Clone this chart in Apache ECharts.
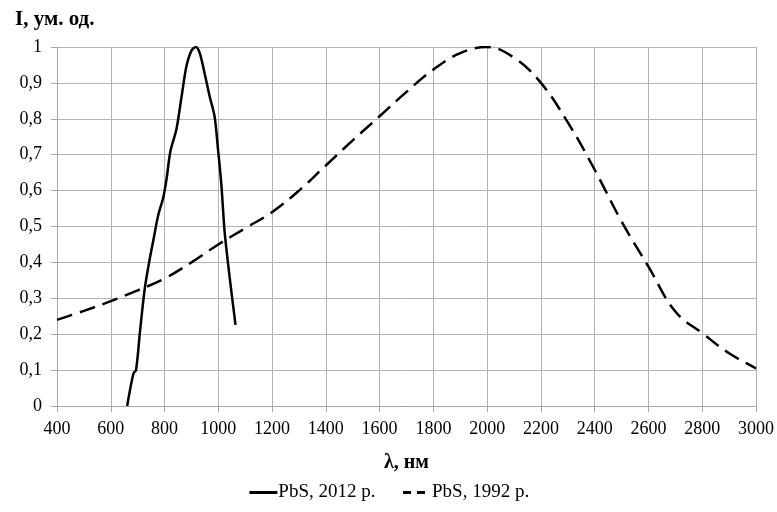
<!DOCTYPE html>
<html>
<head>
<meta charset="utf-8">
<script src="https://cdn.jsdelivr.net/npm/echarts@6/dist/echarts.min.js"></script>
<style>html,body{margin:0;padding:0;background:#fff}#c{width:777px;height:512px}</style>
</head>
<body>
<div id="c"></div>
<script>
const seriesNames = ['PbS, 2012 р.', 'PbS, 1992 р.'];
const wl2012 = [661, 684, 694, 709, 727, 745, 758, 776, 795, 807, 822, 844, 863, 881, 900, 916, 931, 949, 968, 986, 999, 1011, 1023, 1036, 1048, 1064];
const int2012 = [0, 0.09, 0.10, 0.21, 0.33, 0.41, 0.46, 0.53, 0.58, 0.63, 0.71, 0.77, 0.86, 0.945, 0.99, 1.0, 0.983, 0.927, 0.862, 0.807, 0.714, 0.62, 0.49, 0.398, 0.323, 0.226];
const wl1992 = [400, 500, 600, 700, 800, 900, 1000, 1100, 1200, 1300, 1400, 1500, 1600, 1700, 1800, 1900, 2000, 2100, 2200, 2300, 2400, 2500, 2600, 2700, 2800, 2900, 3000];
const int1992 = [0.24, 0.265, 0.292, 0.322, 0.355, 0.40, 0.45, 0.495, 0.54, 0.60, 0.67, 0.74, 0.807, 0.875, 0.937, 0.983, 1.0, 0.97, 0.9, 0.79, 0.658, 0.514, 0.388, 0.263, 0.203, 0.147, 0.105];
const yTitle = 'I, ум. од.';
const xTitle = 'λ, нм';

const font = 'Liberation Serif';
const chart = echarts.init(document.getElementById('c'), null, {renderer: 'canvas'});
chart.setOption({
  animation: false,
  backgroundColor: '#fff',
  title: {
    text: yTitle, left: 10, top: 4,
    textStyle: {fontFamily: font, fontSize: 21, fontWeight: 'bold', color: '#000'}
  },
  grid: {left: 57, right: 19, top: 47, bottom: 106, containLabel: false},
  legend: {
    bottom: 5, left: 'center', itemGap: 26, itemWidth: 28, itemHeight: 14,
    textStyle: {fontFamily: font, fontSize: 19, color: '#000', padding: [0, 0, 0, -4]},
    itemStyle: {opacity: 0},
    data: [
      {name: seriesNames[0], lineStyle: {width: 3, type: 'solid', color: '#000'}},
      {name: seriesNames[1], lineStyle: {width: 3, type: [8, 6], color: '#000'}}
    ]
  },
  xAxis: {
    type: 'value', min: 400, max: 3000, interval: 200,
    name: xTitle, nameLocation: 'middle', nameGap: 47,
    nameTextStyle: {fontFamily: font, fontSize: 20, fontWeight: 'bold', color: '#000'},
    axisLine: {show: true, lineStyle: {color: '#a6a6a6', width: 1}},
    axisTick: {show: true, length: 6, lineStyle: {color: '#a6a6a6'}},
    axisLabel: {fontFamily: font, fontSize: 18, color: '#000', margin: 14, formatter: v => String(v)},
    splitLine: {show: true, lineStyle: {color: '#b3b3b3', width: 1}}
  },
  yAxis: {
    type: 'value', min: 0, max: 1, interval: 0.1,
    axisLine: {show: true, lineStyle: {color: '#a6a6a6', width: 1}},
    axisTick: {show: true, length: 6, lineStyle: {color: '#a6a6a6'}},
    axisLabel: {
      fontFamily: font, fontSize: 18, color: '#000', margin: 15,
      formatter: v => String(Math.round(v * 10) / 10).replace('.', ',')
    },
    splitLine: {show: true, lineStyle: {color: '#b3b3b3', width: 1}}
  },
  series: [
    {
      name: seriesNames[0], type: 'line', symbol: 'none', smooth: 0.3,
      data: wl2012.map((x, i) => [x, int2012[i]]),
      lineStyle: {color: '#000', width: 2.5, type: 'solid'},
      itemStyle: {color: '#000'}
    },
    {
      name: seriesNames[1], type: 'line', symbol: 'none', smooth: 0.4,
      data: wl1992.map((x, i) => [x, int1992[i]]),
      lineStyle: {color: '#000', width: 2.5, type: [16, 8]},
      itemStyle: {color: '#000'}
    }
  ]
});
</script>
</body>
</html>
